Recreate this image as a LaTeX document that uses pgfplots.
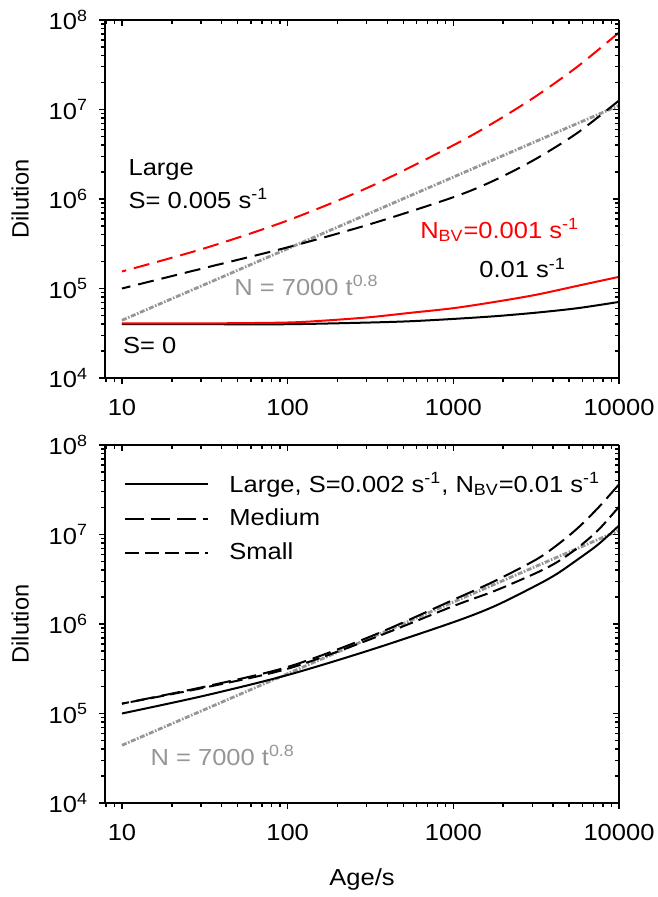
\documentclass[border=0pt]{standalone}
\usepackage{fontspec}
\setmainfont{Liberation Sans}[FakeStretch=1.1]
\newfontfamily\plainsans{Liberation Sans}
\usepackage{pgfplots}
\pgfplotsset{compat=1.18}
\newcommand{\ff}{\fontsize{11.6bp}{13bp}\selectfont}
\newcommand{\fy}{\plainsans\fontsize{11.8bp}{13bp}\selectfont}
\definecolor{gr}{RGB}{150,150,150}
\definecolor{rd}{RGB}{255,0,0}
\pgfplotsset{
 myCommonAx/.style={scale only axis, width=257bp, height=179bp,
   xmin=7.9, xmax=10000, ymin=1e4, ymax=1e8,
   xtick={10,100,1000,10000}, ytick={1e4,1e5,1e6,1e7,1e8},
   minor xtick={8,9,20,30,40,50,60,70,80,90,200,300,400,500,600,700,800,900,2000,3000,4000,5000,6000,7000,8000,9000},
   minor ytick={2e4,3e4,4e4,5e4,6e4,7e4,8e4,9e4,2e5,3e5,4e5,5e5,6e5,7e5,8e5,9e5,2e6,3e6,4e6,5e6,6e6,7e6,8e6,9e6,2e7,3e7,4e7,5e7,6e7,7e7,8e7,9e7},
   axis line style={-,line width=0.8bp},
   major tick length=3bp, minor tick length=1.8bp,
   tick style={black,line width=0.7bp},
 },
 myFrontAx/.style={myCommonAx, axis x line*=bottom, axis y line*=left, tick align=outside,
   xticklabels={10,100,1000,10000},
   yticklabels={10\textsuperscript{4},10\textsuperscript{5},10\textsuperscript{6},10\textsuperscript{7},10\textsuperscript{8}},
   tick label style={font=\ff}, label style={font=\ff},
   xticklabel style={yshift=-4bp}, yticklabel style={xshift=-2bp},
   ylabel={Dilution},
   ylabel style={font=\fy, at={(axis description cs:-0.165,0.5)},anchor=center},
 },
 myBackAx/.style={myCommonAx, axis x line*=top, axis y line*=right, tick align=inside,
   xticklabels={}, yticklabels={}},
}
\tikzset{
 grl/.style={color=gr, line width=1.4bp, dash pattern=on 2.5bp off 0.8bp on 0.8bp off 0.8bp},
 lng/.style={line width=1bp, dash pattern=on 8bp off 4bp},
 med/.style={black, line width=1bp, dash pattern=on 9.5bp off 3.5bp},
 sml/.style={black, line width=1bp, dash pattern=on 7bp off 3bp},
 txt/.style={anchor=base west, font=\ff, inner sep=0pt},
}
\begin{document}
\begin{tikzpicture}
\useasboundingbox (-52.5bp,-259.5bp) rectangle (276.5bp,189bp);
% ---------------- top panel ----------------
\begin{loglogaxis}[myFrontAx]
\addplot[grl] coordinates {(10,44167) (100,278657) (1000,1758310) (10000,11094318)};
\addplot[lng, black, smooth] coordinates {(10000,1.259e7) (5623,5.495e6) (3162,2.818e6) (1778,1.622e6) (1000,1.047e6) (316,5.248e5) (100,2.884e5) (31.6,1.698e5) (10,1.0e5)};
\addplot[lng, rd, smooth] coordinates {(10000,7.244e7) (5623,3.020e7) (3162,1.413e7) (1778,7.244e6) (1000,3.981e6) (316,1.380e6) (100,5.754e5) (31.6,2.818e5) (10,1.549e5)};
\addplot[black, line width=1bp, smooth] coordinates {(10,3.99e4) (31.6,3.99e4) (100,3.99e4) (316,4.169e4) (562,4.315e4) (1000,4.571e4) (1778,4.898e4) (3162,5.370e4) (5623,6.026e4) (10000,7.079e4)};
\addplot[rd, line width=1bp, smooth] coordinates {(10,4.074e4) (31.6,4.074e4) (100,4.169e4) (178,4.416e4) (316,4.786e4) (562,5.370e4) (1000,6.026e4) (1778,7.079e4) (3162,8.511e4) (5623,1.072e5) (10000,1.349e5)};
\node[txt] at (axis cs:10.9,1.81e6) {Large};
\node[txt] at (axis cs:10.9,7.9e5) {S= 0.005 s\textsuperscript{-1}};
\node[txt, text=rd] at (axis cs:628,3.66e5) {N\textsubscript{BV}=0.001 s\textsuperscript{-1}};
\node[txt] at (axis cs:1430,1.31e5) {0.01 s\textsuperscript{-1}};
\node[txt, text=gr] at (axis cs:47.4,8.45e4) {N = 7000 t\textsuperscript{0.8}};
\node[txt] at (axis cs:10.1,1.9e4) {S= 0};
\end{loglogaxis}
\begin{loglogaxis}[myBackAx]
\end{loglogaxis}
% ---------------- bottom panel ----------------
\begin{loglogaxis}[myFrontAx, at={(0,-212.5bp)},
  xlabel={Age/s}, xlabel style={at={(axis description cs:0.5,-0.215)},anchor=center},
  legend style={at={(axis description cs:0.037,0.936)}, anchor=north west, draw=none, fill=none,
    font=\ff, inner sep=0pt, row sep=3bp, cells={anchor=west},
    /tikz/every odd column/.append style={column sep=8bp}},
  legend image code/.code={\draw[#1] (0bp,0bp) -- (41.5bp,0bp);},
  legend cell align=left]
\addplot[grl, forget plot] coordinates {(10,44167) (100,278657) (1000,1758310) (10000,11094318)};
\addplot[black, line width=1bp, smooth] coordinates {(10000,1.259e7) (7499,7.762e6) (5623,5.248e6) (4217,3.631e6) (3162,2.692e6) (1778,1.585e6) (1000,1.047e6) (316,5.129e5) (100,2.692e5) (31.6,1.585e5) (10,1.0e5)};
\addlegendentry{Large, S=0.002 s\textsuperscript{-1}, N\textsubscript{BV}=0.01 s\textsuperscript{-1}}
\addplot[med, smooth] coordinates {(10000,3.631e7) (7499,1.995e7) (5623,1.175e7) (4217,7.586e6) (3162,5.248e6) (1778,3.020e6) (1000,1.862e6) (316,7.244e5) (100,3.311e5) (31.6,1.995e5) (10,1.288e5)};
\addlegendentry{Medium}
\addplot[sml, smooth] coordinates {(10000,2.042e7) (7499,1.122e7) (5623,7.079e6) (4217,4.898e6) (3162,3.715e6) (1778,2.344e6) (1000,1.585e6) (316,6.761e5) (100,3.162e5) (31.6,1.950e5) (10,1.288e5)};
\addlegendentry{Small}
\node[txt, text=gr] at (axis cs:14.8,2.65e4) {N = 7000 t\textsuperscript{0.8}};
\end{loglogaxis}
\begin{loglogaxis}[myBackAx, at={(0,-212.5bp)}]
\end{loglogaxis}
\end{tikzpicture}
\end{document}
